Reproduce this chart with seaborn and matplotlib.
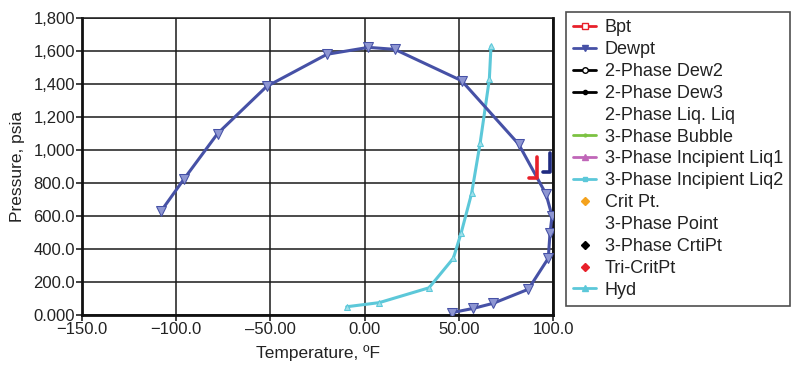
import matplotlib
matplotlib.use("Agg")
import matplotlib.pyplot as plt
import seaborn as sns
import pandas as pd
from matplotlib.lines import Line2D

# ---- data ----
dew_T = [-108, -96, -78, -52, -20, 2, 16, 51.5, 81.8, 96.3, 99.5, 98.4, 97.5, 86.9, 68.3, 57.7, 46.2]
dew_P = [630, 822, 1100, 1385, 1580, 1622, 1610, 1420, 1035, 733, 600, 495, 344, 156, 71, 40, 14]

hyd_T = [-9.5, 7.8, 34.2, 47.1, 51.2, 56.8, 61.3, 66.2, 67.1]
hyd_P = [50, 75, 165, 344, 495, 737, 1040, 1428, 1630]

bpt_T = [91.3, 91.3, 87.5]
bpt_P = [960, 830, 830]

dew2_T = [98.4, 98.4, 94.5]
dew2_P = [980, 868, 868]

x_ticks = [-150, -100, -50, 0, 50, 100]
x_labels = ["\u2212150.0", "\u2212100.0", "\u201350.00", "0.00", "50.00", "100.0"]
y_ticks = [0, 200, 400, 600, 800, 1000, 1200, 1400, 1600, 1800]
y_labels = ["0.000", "200.0", "400.0", "600.0", "800.0", "1,000", "1,200", "1,400", "1,600", "1,800"]

legend_labels = ["Bpt", "Dewpt", "2-Phase Dew2", "2-Phase Dew3", "2-Phase Liq. Liq",
                 "3-Phase Bubble", "3-Phase Incipient Liq1", "3-Phase Incipient Liq2",
                 "Crit Pt.", "3-Phase Point", "3-Phase CrtiPt", "Tri-CritPt", "Hyd"]

sns.set_theme(style="white")
plt.rcParams["font.family"] = ["Liberation Sans", "DejaVu Sans"]

fig = plt.figure(figsize=(8.0, 3.71), dpi=100)
ax = fig.add_axes([82 / 800, 1 - 315 / 371, (553 - 82) / 800, (315 - 18) / 371])

DEW = "#4651a6"
HYD = "#5cc8d9"

dew_df = pd.DataFrame({"T": dew_T, "P": dew_P})
hyd_df = pd.DataFrame({"T": hyd_T, "P": hyd_P})
bpt_df = pd.DataFrame({"T": bpt_T, "P": bpt_P})
dew2_df = pd.DataFrame({"T": dew2_T, "P": dew2_P})

sns.lineplot(data=hyd_df, x="T", y="P", sort=False, estimator=None, ax=ax,
             color=HYD, lw=2.2, marker="^", markersize=5, markeredgecolor=HYD,
             markerfacecolor="#9fe0ea", zorder=3)
sns.lineplot(data=dew_df, x="T", y="P", sort=False, estimator=None, ax=ax,
             color=DEW, lw=2.2, marker="v", markersize=7, markeredgecolor=DEW,
             markerfacecolor="#8e96d2", zorder=4)
sns.lineplot(data=bpt_df, x="T", y="P", sort=False, estimator=None, ax=ax,
             color="#e8202a", lw=2.6, zorder=5)
sns.lineplot(data=dew2_df, x="T", y="P", sort=False, estimator=None, ax=ax,
             color="#1f2a80", lw=2.6, zorder=5)

ax.set_xlim(-150, 100)
ax.set_ylim(0, 1800)
ax.set_xticks(x_ticks)
ax.set_xticklabels(x_labels)
ax.set_yticks(y_ticks)
ax.set_yticklabels(y_labels)
ax.grid(True, color="#1a1a1a", lw=1.1)
ax.set_axisbelow(True)
for side in ["left", "bottom", "right"]:
    ax.spines[side].set_visible(True)
    ax.spines[side].set_color("#111111")
    ax.spines[side].set_linewidth(2.0)
ax.spines["top"].set_visible(True)
ax.spines["top"].set_color("#1a1a1a")
ax.spines["top"].set_linewidth(1.1)
ax.tick_params(axis="both", which="major", labelsize=12, colors="#222222",
               length=4, width=1.2, direction="out", left=True, bottom=True, pad=1)
ax.set_xlabel("Temperature, \u00baF", fontsize=12.5, color="#222222", labelpad=6)
ax.set_ylabel("Pressure, psia", fontsize=12.5, color="#222222", labelpad=6)

# legend handles (series without visible data included as empty entries)
styles = [
    dict(color="#e8202a", marker="s", mfc="white", mec="#e8202a", ms=4),
    dict(color=DEW, marker="v", mfc=DEW, mec=DEW, ms=4),
    dict(color="black", marker="o", mfc="white", mec="black", ms=4),
    dict(color="black", marker="o", mfc="black", mec="black", ms=3),
    dict(color="none", marker=None),
    dict(color="#7cc242", marker="o", mfc="#7cc242", mec="#7cc242", ms=2),
    dict(color="#c066b8", marker="^", mfc="#c066b8", mec="#c066b8", ms=4),
    dict(color=HYD, marker="s", mfc=HYD, mec=HYD, ms=3),
    dict(color="none", marker="D", mfc="#f4a21d", mec="#f4a21d", ms=4),
    dict(color="none", marker=None),
    dict(color="none", marker="D", mfc="black", mec="black", ms=4),
    dict(color="none", marker="D", mfc="#e8202a", mec="#e8202a", ms=4),
    dict(color=HYD, marker="^", mfc=HYD, mec=HYD, ms=4),
]
handles = [Line2D([], [], lw=2, **s) for s in styles]
leg = fig.legend(handles, legend_labels, loc="upper left",
                 bbox_to_anchor=(566 / 800, 1 - 12 / 371), bbox_transform=fig.transFigure,
                 frameon=True, fancybox=False, fontsize=13, labelspacing=0.27,
                 handlelength=1.25, handletextpad=0.5, borderpad=0.4, borderaxespad=0)
leg.get_frame().set_edgecolor("#222222")
leg.get_frame().set_linewidth(1.2)
for t in leg.get_texts():
    t.set_color("#222222")

fig.savefig("out.png", dpi=100)
